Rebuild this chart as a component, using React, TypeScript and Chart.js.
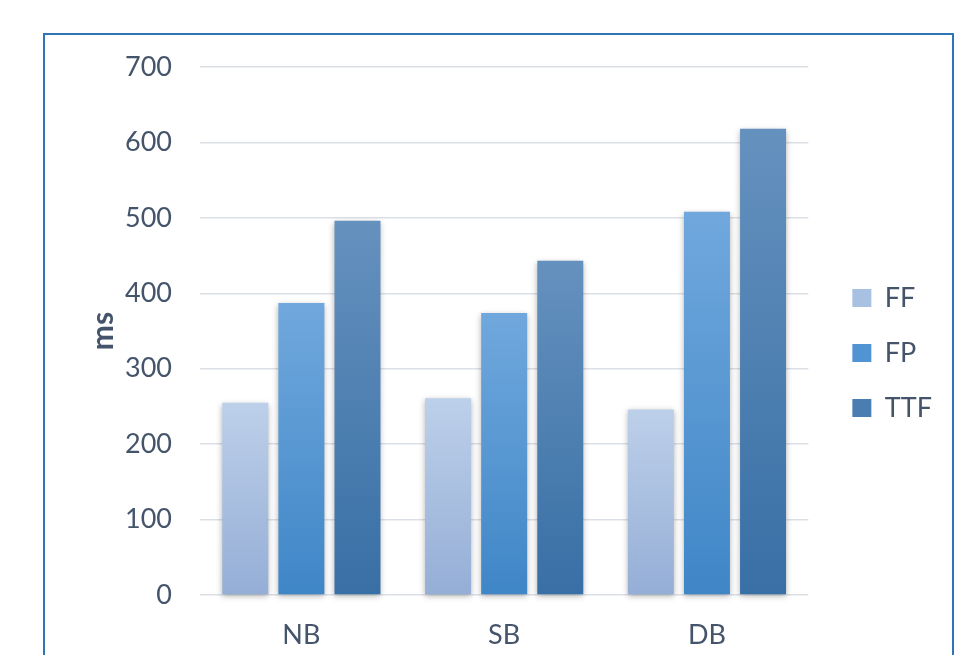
import React, { useEffect, useRef } from 'react';
import { Chart, registerables } from 'chart.js';

Chart.register(...registerables);

const categories = ['NB', 'SB', 'DB'];
const seriesNames = ['FF', 'FP', 'TTF'];
const ffValues = [255, 261, 246];
const fpValues = [387, 374, 508];
const ttfValues = [496, 443, 618];
const yMin = 0;
const yMax = 700;
const yStep = 100;
const yTitle = 'ms';

const TEXT = '#44546a';
const GRID = '#dbe0e7';
const gradStops: [string, string][] = [
  ['#bdd0ea', '#95aed6'],
  ['#70a8dd', '#3f86c7'],
  ['#6591be', '#386fa5'],
];
const legendColors = ['#a8c0e2', '#5194d3', '#4a7eb3'];

function barGradient(i: number) {
  return (ctx: any) => {
    const chart = ctx.chart;
    const area = chart.chartArea;
    if (!area || ctx.type !== 'data' || !chart.scales.y) return gradStops[i][1];
    const y = chart.scales.y;
    const top = y.getPixelForValue(ctx.raw);
    const bottom = y.getPixelForValue(0);
    if (!isFinite(top) || !isFinite(bottom) || top === bottom) return gradStops[i][1];
    const g = chart.ctx.createLinearGradient(0, top, 0, bottom);
    g.addColorStop(0, gradStops[i][0]);
    g.addColorStop(1, gradStops[i][1]);
    return g;
  };
}

const shadowPlugin = {
  id: 'barShadow',
  beforeDatasetsDraw(chart: any) {
    const c = chart.ctx;
    c.save();
    c.shadowColor = 'rgba(0,0,0,0.3)';
    c.shadowBlur = 6;
    c.shadowOffsetX = 0;
    c.shadowOffsetY = 2;
  },
  afterDatasetsDraw(chart: any) {
    chart.ctx.restore();
  },
};

export default function App() {
  const ref = useRef<HTMLCanvasElement | null>(null);

  useEffect(() => {
    if (!ref.current) return;
    Chart.defaults.font.family = 'Lato';
    const seriesValues = [ffValues, fpValues, ttfValues];
    const chart = new Chart(ref.current, {
      type: 'bar',
      data: {
        labels: categories,
        datasets: seriesNames.map((name, i) => ({
          label: name,
          data: seriesValues[i],
          backgroundColor: barGradient(i),
          borderWidth: 0,
          categoryPercentage: 0.83,
          barPercentage: 0.82,
          clip: false as any,
        })),
      },
      options: {
        responsive: false,
        animation: false,
        events: [],
        layout: { padding: { top: 51, bottom: 0, left: 0, right: 35 } },
        plugins: {
          tooltip: { enabled: false },
          legend: {
            position: 'right',
            align: 'center',
            labels: {
              boxWidth: 19,
              boxHeight: 18,
              padding: 28,
              color: TEXT,
              font: { size: 27 },
              generateLabels: (chart: any) =>
                chart.data.datasets.map((ds: any, i: number) => ({
                  text: ds.label,
                  fillStyle: legendColors[i],
                  strokeStyle: legendColors[i],
                  lineWidth: 0,
                  hidden: false,
                  datasetIndex: i,
                  fontColor: TEXT,
                })),
            },
          },
        },
        scales: {
          x: {
            grid: { display: false, drawTicks: false },
            border: { display: false },
            ticks: { color: TEXT, font: { size: 27 }, padding: 24 },
            afterFit: (s: any) => {
              s.height = 60;
            },
          },
          xPad: {
            type: 'linear',
            axis: 'x',
            position: 'top',
            display: true,
            grid: { display: false, drawTicks: false },
            border: { display: false },
            ticks: { display: false },
            afterFit: (s: any) => {
              s.height = 16;
            },
          },
          y: {
            min: yMin,
            max: yMax,
            ticks: { stepSize: yStep, color: TEXT, font: { size: 27 }, padding: 28 },
            grid: { color: GRID, lineWidth: 1.5, drawTicks: false },
            border: { display: false },
            title: {
              display: true,
              text: yTitle,
              color: TEXT,
              font: { size: 30, weight: 'bold' },
              padding: { top: 85, bottom: 0 },
            },
            afterFit: (s: any) => {
              s.width = 200;
            },
          },
          yPad: {
            type: 'linear',
            axis: 'y',
            position: 'right',
            display: true,
            grid: { display: false, drawTicks: false },
            border: { display: false },
            ticks: { display: false },
            afterFit: (s: any) => {
              s.width = 16;
            },
          },
        },
      },
      plugins: [shadowPlugin],
    });
    return () => chart.destroy();
  }, []);

  return (
    <div style={{ position: 'fixed', left: 0, top: 0, width: 977, height: 655, overflow: 'hidden', background: '#ffffff' }}>
      <canvas ref={ref} width={977} height={655} style={{ position: 'absolute', left: 0, top: 0, width: 977, height: 655 }} />
      <div
        style={{
          position: 'absolute',
          left: 43,
          top: 33,
          width: 907,
          height: 700,
          border: '2px solid #2f75b5',
          pointerEvents: 'none',
        }}
      />
    </div>
  );
}
